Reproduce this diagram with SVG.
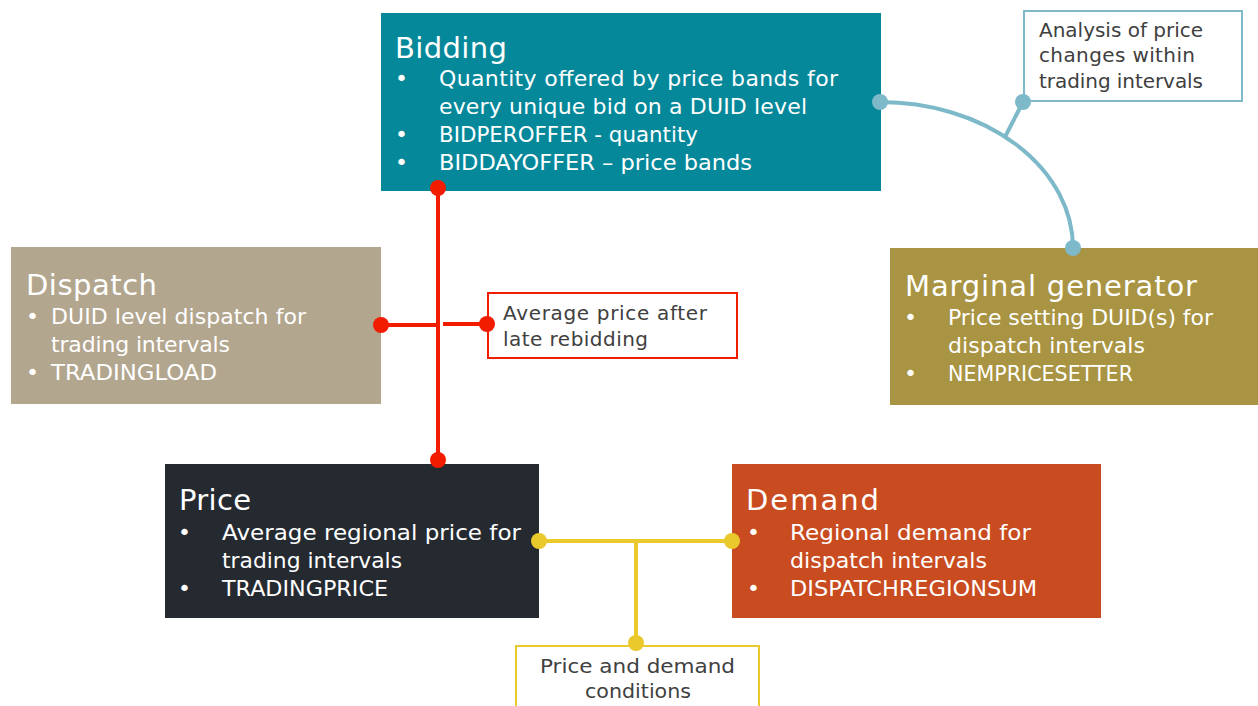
<svg xmlns="http://www.w3.org/2000/svg" width="1258" height="706" viewBox="0 0 1258 706">
  <style>
    .title { font-family: "DejaVu Sans", "Liberation Sans", sans-serif; font-size: 29px; fill: #ffffff; }
    .body { font-family: "DejaVu Sans", "Liberation Sans", sans-serif; font-size: 22px; fill: #ffffff; }
    .note { font-family: "DejaVu Sans", "Liberation Sans", sans-serif; font-size: 20px; fill: #404040; }
    .red { stroke: #f21c00; stroke-width: 4; fill: none; }
    .redDot { fill: #f21c00; }
    .blue { stroke: #7db9c9; stroke-width: 4; fill: none; }
    .blueDot { fill: #7db9c9; }
    .yellow { stroke: #eac92c; stroke-width: 4; fill: none; }
    .yellowDot { fill: #eac92c; }
  </style>
  <rect width="1258" height="706" fill="#ffffff"/>

  <g id="bidding">
    <rect x="381" y="13" width="500" height="178" fill="#06889b"/>
    <text class="title" x="395" y="58" textLength="112">Bidding</text>
    <text class="body" x="395" y="86">•</text>
    <text class="body" x="439" y="86" textLength="399">Quantity offered by price bands for</text>
    <text class="body" x="439" y="114" textLength="368">every unique bid on a DUID level</text>
    <text class="body" x="395" y="142">•</text>
    <text class="body" x="439" y="142" textLength="259" lengthAdjust="spacingAndGlyphs">BIDPEROFFER - quantity</text>
    <text class="body" x="395" y="170">•</text>
    <text class="body" x="439" y="170" textLength="313" lengthAdjust="spacingAndGlyphs">BIDDAYOFFER – price bands</text>
  </g>

  <g id="analysis-note">
    <rect x="1024" y="11" width="218" height="90" fill="#ffffff" stroke="#7db9c9" stroke-width="2"/>
    <text class="note" x="1039" y="37" textLength="164">Analysis of price</text>
    <text class="note" x="1039" y="62" textLength="156">changes within</text>
    <text class="note" x="1039" y="88" textLength="164">trading intervals</text>
  </g>

  <g id="marginal-generator">
    <rect x="890" y="248" width="368" height="157" fill="#a89442"/>
    <text class="title" x="905" y="296" textLength="292">Marginal generator</text>
    <text class="body" x="904" y="325">•</text>
    <text class="body" x="948" y="325" textLength="265">Price setting DUID(s) for</text>
    <text class="body" x="948" y="353" textLength="197">dispatch intervals</text>
    <text class="body" x="904" y="381">•</text>
    <text class="body" x="948" y="381" textLength="185" lengthAdjust="spacingAndGlyphs">NEMPRICESETTER</text>
  </g>

  <g id="dispatch">
    <rect x="11" y="247" width="370" height="157" fill="#b3a68f"/>
    <text class="title" x="26" y="295" textLength="131">Dispatch</text>
    <text class="body" x="26" y="324">•</text>
    <text class="body" x="51" y="324" textLength="255">DUID level dispatch for</text>
    <text class="body" x="51" y="352" textLength="179">trading intervals</text>
    <text class="body" x="26" y="380">•</text>
    <text class="body" x="51" y="380" textLength="166" lengthAdjust="spacingAndGlyphs">TRADINGLOAD</text>
  </g>

  <g id="rebidding-note">
    <rect x="488" y="293" width="249" height="65" fill="#ffffff" stroke="#f21c00" stroke-width="2"/>
    <text class="note" x="503" y="320" textLength="204">Average price after</text>
    <text class="note" x="503" y="346" textLength="145">late rebidding</text>
  </g>

  <g id="price">
    <rect x="165" y="464" width="374" height="154" fill="#252a31"/>
    <text class="title" x="179" y="510" textLength="72">Price</text>
    <text class="body" x="178" y="540">•</text>
    <text class="body" x="222" y="540" textLength="299" lengthAdjust="spacingAndGlyphs">Average regional price for</text>
    <text class="body" x="222" y="568" textLength="180" lengthAdjust="spacingAndGlyphs">trading intervals</text>
    <text class="body" x="178" y="596">•</text>
    <text class="body" x="222" y="596" textLength="166" lengthAdjust="spacingAndGlyphs">TRADINGPRICE</text>
  </g>

  <g id="demand">
    <rect x="732" y="464" width="369" height="154" fill="#c94b20"/>
    <text class="title" x="746" y="510" textLength="133">Demand</text>
    <text class="body" x="747" y="540">•</text>
    <text class="body" x="790" y="540" textLength="241" lengthAdjust="spacingAndGlyphs">Regional demand for</text>
    <text class="body" x="790" y="568" textLength="197" lengthAdjust="spacingAndGlyphs">dispatch intervals</text>
    <text class="body" x="747" y="596">•</text>
    <text class="body" x="790" y="596" textLength="247" lengthAdjust="spacingAndGlyphs">DISPATCHREGIONSUM</text>
  </g>

  <g id="conditions-note">
    <rect x="516" y="646" width="243" height="70" fill="#ffffff" stroke="#eac92c" stroke-width="2"/>
    <text class="note" x="540" y="673" textLength="195" lengthAdjust="spacingAndGlyphs">Price and demand</text>
    <text class="note" x="585" y="698" textLength="106" lengthAdjust="spacingAndGlyphs">conditions</text>
  </g>

  <!-- connectors, drawn last so the end dots sit on the box edges -->
  <g id="connectors">
    <!-- Bidding to Marginal generator, with branch to analysis note -->
    <path class="blue" d="M880 102 A193 146 0 0 1 1073 248"/>
    <line class="blue" x1="1005" y1="137" x2="1023" y2="102"/>
    <circle class="blueDot" cx="880" cy="102" r="8"/>
    <circle class="blueDot" cx="1023" cy="102" r="8"/>
    <circle class="blueDot" cx="1073" cy="248" r="8"/>

    <!-- Bidding to Price, crossed by Dispatch to rebidding note -->
    <line class="red" x1="438" y1="188" x2="438" y2="460"/>
    <line class="red" x1="381" y1="325" x2="437" y2="325"/>
    <line class="red" x1="443" y1="324" x2="487" y2="324"/>
    <circle class="redDot" cx="438" cy="188" r="8"/>
    <circle class="redDot" cx="438" cy="460" r="8"/>
    <circle class="redDot" cx="381" cy="325" r="8"/>
    <circle class="redDot" cx="487" cy="324" r="8"/>

    <!-- Price to Demand, with branch to conditions note -->
    <line class="yellow" x1="539" y1="541" x2="732" y2="541"/>
    <line class="yellow" x1="636" y1="541" x2="636" y2="643"/>
    <circle class="yellowDot" cx="539" cy="541" r="8"/>
    <circle class="yellowDot" cx="732" cy="541" r="8"/>
    <circle class="yellowDot" cx="636" cy="643" r="8"/>
  </g>
</svg>
